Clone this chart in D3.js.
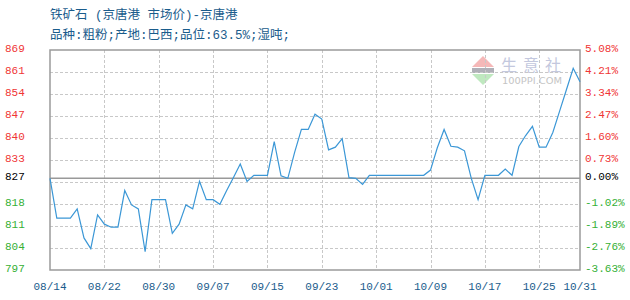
<!DOCTYPE html>
<html>
<head>
<meta charset="utf-8">
<script src="https://cdn.jsdelivr.net/npm/d3@7"></script>
<style>
  body { margin: 0; background: #fff; }
  svg { display: block; }
</style>
</head>
<body>
<div id="chart"></div>
<script>
'use strict';

// chart texts
const titleText = "铁矿石 (京唐港 市场价)-京唐港";
const subtitleText = "品种:粗粉;产地:巴西;品位:63.5%;湿吨;";

// one price per calendar day, starting 08/14
const startDay = "2019-08-14";
const prices = [
  827, 814, 814, 814, 817, 807.5, 804, 815, 812, 811,
  811, 823, 818.3, 817, 803, 820, 820, 820, 809, 812,
  818.3, 817, 826, 820, 820, 818.5, 823, 827.3, 831.7, 826,
  828, 828, 828, 839, 827.8, 827, 835.5, 843, 843, 848,
  846.4, 836.3, 837.2, 840, 827.2, 827, 825, 828, 828, 828,
  828, 828, 828, 828, 828, 828, 829.7, 837, 843, 837.5,
  837.2, 836, 827, 820, 828, 828, 828, 830, 828, 837.4,
  841, 844, 837.2, 837.2, 842, 849, 856, 863, 858.6
];
const baseValue = 827;

// axes
const xTickLabels = ["08/14", "08/22", "08/30", "09/07", "09/15", "09/23", "10/01", "10/09", "10/17", "10/25", "10/31"];
const yTickValues = [869, 861.8, 854.6, 847.4, 840.2, 833, 825.8, 818.6, 811.4, 804.2, 797];
const yTickLabels = ["869", "861", "854", "847", "840", "833", "", "818", "811", "804", "797"];
const pctTickLabels = ["5.08%", "4.21%", "3.34%", "2.47%", "1.60%", "0.73%", "", "-1.02%", "-1.89%", "-2.76%", "-3.63%"];

const width = 630, height = 300;
const margin = {top: 50, right: 50, bottom: 30, left: 50};

const parseDay = d3.timeParse("%Y-%m-%d");
const day0 = parseDay(startDay);
const parsed = prices.map((v, i) => ({date: d3.timeDay.offset(day0, i), value: v}));
const tickDates = xTickLabels.map(s => d3.timeParse("%Y/%m/%d")("2019/" + s));

const svg = d3.select("#chart")
  .append("svg")
    .attr("width", width)
    .attr("height", height);

const x = d3.scaleTime()
  .domain([tickDates[0], tickDates[tickDates.length - 1]])
  .range([margin.left, width - margin.right]);

const y = d3.scaleLinear()
  .domain([797, 869])
  .range([height - margin.bottom, margin.top]);

const numFont = "'Liberation Mono', 'DejaVu Sans Mono', monospace";
const cjkFont = "'Liberation Mono', 'Noto Sans CJK SC', sans-serif";
const blue = "#1a5c8c";
const red = "#f03535";
const green = "#35b035";

// titles
svg.append("text")
  .attr("x", 50).attr("y", 19)
  .style("font-family", cjkFont).style("font-size", "12.5px")
  .style("fill", blue)
  .text(titleText);

svg.append("text")
  .attr("x", 50).attr("y", 39)
  .style("font-family", cjkFont).style("font-size", "12.5px")
  .style("fill", blue)
  .text(subtitleText);

// watermark
let wm = svg.append("g").attr("class", "watermark");
wm.append("path")
  .attr("d", "M483,56 L494,67 L472,67 Z")
  .style("fill", "#f5b8b8");
wm.append("rect")
  .attr("x", 472).attr("y", 68).attr("width", 22).attr("height", 5)
  .style("fill", "#b0b0b8");
wm.append("path")
  .attr("d", "M472,74 L494,74 L483,85 Z")
  .style("fill", "#bfe8bf");
wm.selectAll("text.wmc")
  .data(["生", "意", "社"])
  .enter()
  .append("text")
    .attr("class", "wmc")
    .attr("x", (d, i) => 501 + i * 22)
    .attr("y", 71)
    .style("font-family", "'Noto Sans CJK SC', sans-serif")
    .style("font-size", "16px")
    .style("fill", "#c3c8de")
    .text(d => d);
wm.append("text")
  .attr("x", 502).attr("y", 84)
  .attr("textLength", 60)
  .attr("lengthAdjust", "spacingAndGlyphs")
  .style("font-family", "'DejaVu Sans', sans-serif")
  .style("font-size", "9px")
  .style("fill", "#c4c4c4")
  .text("100PPI.COM");

// horizontal grid
svg.append("g").selectAll("line")
  .data(yTickValues.slice(1, -1))
  .enter()
  .append("line")
    .attr("x1", margin.left).attr("x2", width - margin.right)
    .attr("y1", d => Math.round(y(d)) + 0.5)
    .attr("y2", d => Math.round(y(d)) + 0.5)
    .style("stroke", "#c8c8c8")
    .style("stroke-dasharray", "3,2");

// vertical grid
svg.append("g").selectAll("line")
  .data(tickDates.slice(1, -1))
  .enter()
  .append("line")
    .attr("x1", d => Math.round(x(d)) + 0.5)
    .attr("x2", d => Math.round(x(d)) + 0.5)
    .attr("y1", margin.top).attr("y2", height - margin.bottom)
    .style("stroke", "#c8c8c8")
    .style("stroke-dasharray", "3,2");

// base line
svg.append("line")
  .attr("x1", margin.left).attr("x2", width - margin.right)
  .attr("y1", y(baseValue)).attr("y2", y(baseValue))
  .style("stroke", "#999")
  .style("stroke-width", 1.5);

// frame
svg.append("rect")
  .attr("x", margin.left).attr("y", margin.top)
  .attr("width", width - margin.left - margin.right)
  .attr("height", height - margin.top - margin.bottom)
  .style("fill", "none")
  .style("stroke", "#9a9a9a")
  .style("stroke-width", 1.5);

// price line
let line = d3.line()
  .x(d => x(d.date))
  .y(d => y(d.value));

svg.append("path")
  .datum(parsed)
  .attr("d", line)
  .style("fill", "none")
  .style("stroke", "#3b97d6")
  .style("stroke-width", 1.2);

// left labels
let leftAxis = svg.append("g");
yTickValues.forEach((v, i) => {
  if (!yTickLabels[i]) return;
  leftAxis.append("text")
    .attr("x", 5).attr("y", y(v) + 2)
    .style("font-family", numFont).style("font-size", "11px")
    .style("fill", v > baseValue ? red : green)
    .text(yTickLabels[i]);
});
leftAxis.append("text")
  .attr("x", 5).attr("y", y(baseValue) + 2)
  .style("font-family", numFont).style("font-size", "11px")
  .style("fill", "#000")
  .text(String(baseValue));

// right labels
let rightAxis = svg.append("g");
yTickValues.forEach((v, i) => {
  if (!pctTickLabels[i]) return;
  rightAxis.append("text")
    .attr("x", 585).attr("y", y(v) + 2)
    .style("font-family", numFont).style("font-size", "11px")
    .style("fill", v > baseValue ? red : green)
    .text(pctTickLabels[i]);
});
rightAxis.append("text")
  .attr("x", 585).attr("y", y(baseValue) + 2)
  .style("font-family", numFont).style("font-size", "11px")
  .style("fill", "#000")
  .text("0.00%");

// bottom labels
svg.append("g").selectAll("text")
  .data(tickDates)
  .enter()
  .append("text")
    .attr("x", d => x(d))
    .attr("y", 290)
    .attr("text-anchor", "middle")
    .style("font-family", numFont).style("font-size", "11px")
    .style("fill", blue)
    .text((d, i) => xTickLabels[i]);
</script>
</body>
</html>
